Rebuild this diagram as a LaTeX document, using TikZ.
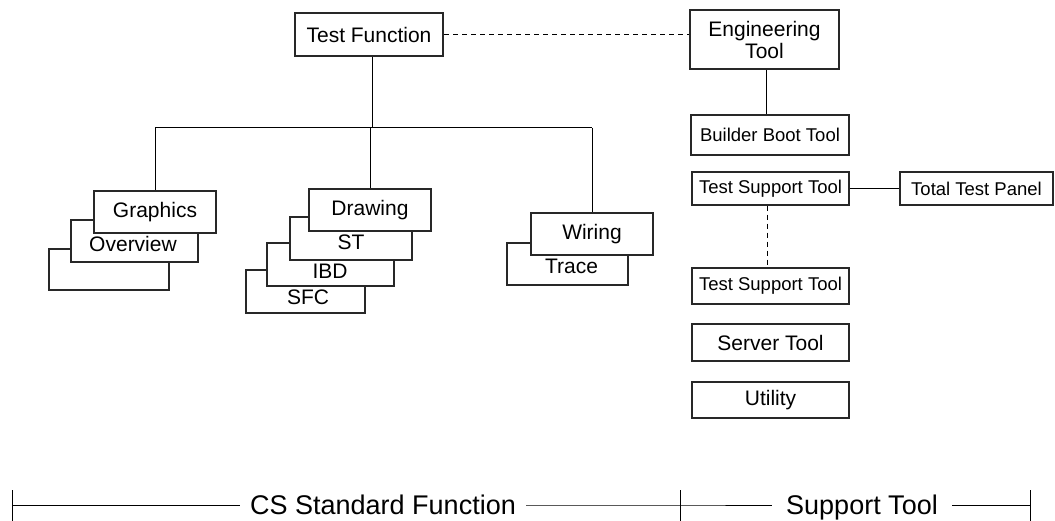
\documentclass[tikz,border=0pt]{standalone}
\usepackage{fontspec}
\setmainfont{Liberation Sans}
\usepackage{tikz}
\usetikzlibrary{positioning,calc}
\definecolor{boxline}{RGB}{40,40,40}

\begin{document}
\begin{tikzpicture}[x=1pt,y=-1pt,
  box/.style={draw=boxline,line width=1.3pt,fill=white,inner sep=0pt,font=\fontsize{21}{24}\selectfont},
  boxs/.style={box,font=\fontsize{18.5}{22}\selectfont},
  bigbox/.style={box,line width=2.6pt,align=center,font=\fontsize{21}{25}\selectfont},
  txt/.style={inner sep=0pt,font=\fontsize{21}{24}\selectfont},
  span/.style={inner ysep=0pt,anchor=base,font=\fontsize{27}{30}\selectfont},
  link/.style={line width=1pt},
  dlink/.style={line width=1pt,dash pattern=on 5pt off 4pt}]
\useasboundingbox (0,0) rectangle (1055,521);
\node[bigbox,minimum width=148pt,minimum height=43pt] (testfn) at (369,34.5) {Test Function};
\node[bigbox,minimum width=149pt,minimum height=59pt] (engtool) at (764.5,39.5) {Engineering\\[-3pt]Tool};
\node[boxs,minimum width=158pt,minimum height=40pt] (builder) at (770,135) {Builder Boot Tool};
\node[boxs,minimum width=157pt,minimum height=33pt] (tst1) at (770.5,188.5) {Test Support Tool};
\node[boxs,minimum width=153pt,minimum height=33pt] (ttp) at (976.5,188.5) {Total Test Panel};
\node[boxs,minimum width=157pt,minimum height=36pt] (tst2) at (770.5,286) {Test Support Tool};
\node[box,minimum width=157pt,minimum height=37pt] (server) at (770.5,342.5) {Server Tool};
\node[box,minimum width=157pt,minimum height=36pt] (utility) at (770.5,400) {Utility};

\node[box,minimum width=120pt,minimum height=41pt] (blank) at (109,269.5) {};
\node[box,minimum width=127pt,minimum height=42pt] (overview) at (134.5,241) {};
\node[txt] (overviewt) at (133,243.5) {Overview};
\node[box,minimum width=122pt,minimum height=42pt] (graphics) at (155,212) {Graphics};

\node[box,minimum width=119pt,minimum height=43pt] (sfc) at (305.5,291.5) {};
\node[txt] (sfct) at (308,297.5) {SFC};
\node[box,minimum width=127pt,minimum height=43pt] (ibd) at (330.5,264.5) {};
\node[txt] (ibdt) at (330,271.5) {IBD};
\node[box,minimum width=122pt,minimum height=43pt] (st) at (351,238.5) {};
\node[txt] (stt) at (351,242) {ST};
\node[box,minimum width=122pt,minimum height=42pt] (drawing) at (370,210) {Drawing};

\node[box,minimum width=121pt,minimum height=42pt] (trace) at (567.5,264) {};
\node[txt] (tracet) at (571.5,266.5) {Trace};
\node[box,minimum width=122pt,minimum height=42pt] (wiring) at (592,234) {Wiring};

\coordinate (bus) at (372,128);
\draw[link] (testfn.south -| bus) -- (bus);
\draw[link] (graphics.north |- bus) -- (wiring.north |- bus);
\draw[link] (graphics.north |- bus) -- (graphics.north);
\draw[link] (drawing.north |- bus) -- (drawing.north);
\draw[link] (wiring.north |- bus) -- (wiring.north);
\draw[dlink] (testfn.east) -- (testfn.east -| engtool.west);
\draw[link] ([xshift=2pt]engtool.south) -- ([xshift=2pt]engtool.south |- builder.north);
\draw[link] (tst1.east) -- (ttp.west);
\draw[dlink] ([xshift=-3pt]tst1.south) -- ([xshift=-3pt]tst2.north);

\node[span,inner xsep=10pt] (csfn) at (383,514) {CS Standard Function};
\node[span,inner xsep=14pt] (suptool) at (862,514) {Support Tool};
\coordinate (lt) at (12,505);
\coordinate (mt) at (680,505);
\coordinate (rt) at (1030,505);
\draw[link] (lt) -- (csfn.west |- lt);
\draw[link] (csfn.east |- lt) -- (mt) -- (suptool.west |- mt);
\draw[link] (suptool.east |- rt) -- (rt);
\foreach \t in {lt,mt,rt}
  \draw[link] ([yshift=-28pt]\t) -- ([yshift=15pt]\t);
\end{tikzpicture}
\end{document}
